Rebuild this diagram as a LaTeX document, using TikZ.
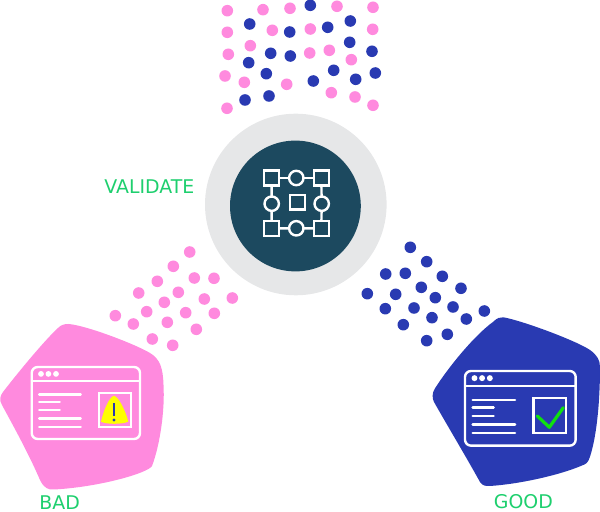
\documentclass[tikz,border=0pt]{standalone}
\usepackage{fontspec}
\setmainfont{DejaVu Sans}
\usetikzlibrary{positioning}
\definecolor{pinkColor}{RGB}{255,138,222}
\definecolor{blueColor}{RGB}{41,58,178}
\definecolor{ringColor}{RGB}{230,231,232}
\definecolor{coreColor}{RGB}{28,73,95}
\definecolor{labelColor}{RGB}{30,207,110}
\definecolor{tickColor}{RGB}{16,224,16}
\definecolor{signColor}{RGB}{255,255,0}
\tikzstyle{pixelGrid} = [x = .5pt, y = -.5pt]
\tikzstyle{iconLine} = [color=white, line width=1.2pt]
\tikzstyle{windowText} = [color=white, line width=1.2pt, line cap=round]
\tikzstyle{flowSquare} = [draw=white, line width=1.2pt, minimum size=7.4pt, inner sep=0pt, outer sep=0pt]
\tikzstyle{flowCircle} = [draw=white, line width=1.2pt, circle, minimum size=7.2pt, inner sep=0pt, outer sep=0pt]
\tikzstyle{labelText} = [color=labelColor, font=\fontsize{9.45}{11}\selectfont, anchor=base west, inner sep=0pt]
\newcommand{\dotRadius}{5.8}
\newcommand{\pinkDots}[1]{\foreach \dotPos in {#1} {\fill [pinkColor] \dotPos circle (\dotRadius);}}
\newcommand{\blueDots}[1]{\foreach \dotPos in {#1} {\fill [blueColor] \dotPos circle (\dotRadius);}}
% window icon: x, y, xscale, yscale
\newcommand{\browserWindow}[4]{
  \begin{scope}[shift={(#1,#2)}, xscale=#3, yscale=#4]
    \draw [iconLine, rounded corners=3pt] (0,0) rectangle (108.3,72);
    \draw [iconLine] (0,14.3) -- (108.3,14.3);
    \foreach \dotX in {9.3,16.7,24.3} {
      \fill [white] (\dotX,6.9) circle (2.9);
    }
    \foreach \lineY/\lineEnd in {27.7/49, 35.3/28, 43.3/28, 51.7/49, 60/49} {
      \draw [windowText] (7.5,\lineY) -- (\lineEnd,\lineY);
    }
    \draw [iconLine] (67,26.3) rectangle (99,60);
  \end{scope}
}
\begin{document}
\begin{tikzpicture}[pixelGrid]
  \useasboundingbox (0,0) rectangle (600,512);
  \clip (0,0) rectangle (600,512);

  % top cloud
  \pinkDots{(227.3,10.7),(263,9.7),(290,8.3),(337,6.3),(373,7.3),(227.3,32.3),(272.3,30.3),(310.3,29),(372.7,29.3),(250.3,45.7),(228.3,54.3),(309.7,53),(329.3,50.3),(351.3,59.7),(225,76),(244.3,82.3),(286.7,84.3),(331.3,92.7),(355,97),(373,105.3),(227,108.3)}
  \blueDots{(310.3,5.3),(249.7,24),(289.7,32),(327.7,27.3),(350.3,21),(349.7,42.3),(270.7,53.3),(290.3,56),(372,51.3),(248.7,62.7),(266.3,73.7),(333.7,70.3),(313.3,81),(355.7,79.3),(375.3,73),(245,100),(269,96)}

  % left and right clouds
  \pinkDots{(189.7,252),(173.3,266.3),(157.3,281.3),(138.7,293),(194.3,278),(214,278.3),(178.3,292.3),(164.3,302.3),(146.7,311.7),(115.3,315.7),(133.3,324),(204.3,299),(232.3,298),(185.7,312.7),(214.3,313.3),(167.3,322.3),(196.3,329.3),(152.3,339),(172.7,345.3)}
  \blueDots{(410.3,247.3),(426.7,261.7),(385.7,274),(405.3,273.3),(442.3,276.3),(421.3,287.3),(461,288.3),(367.3,293.7),(395.7,294.3),(435.3,297.7),(385.3,308.7),(414,308),(453,307),(484.3,311),(432,317.7),(466.3,319),(403.3,324.7),(447.3,334.3),(426.7,340.7)}

  % validate disc
  \fill [ringColor] (295.8,204.5) circle (90.8);
  \fill [coreColor] (295.4,206) circle (65.4);

  \node [flowSquare] (squareTL) at (271.5,178) {};
  \node [flowSquare] (squareTR) at (321.3,178) {};
  \node [flowSquare] (squareBL) at (271.5,228.5) {};
  \node [flowSquare] (squareBR) at (321.3,228.5) {};
  \node [flowSquare] (squareMid) at (297.3,202.2) {};
  \node [flowCircle] (circleTop) at (296.3,178) {};
  \node [flowCircle] (circleLeft) at (271.7,203.7) {};
  \node [flowCircle] (circleRight) at (321.7,203.7) {};
  \node [flowCircle] (circleBottom) at (296.3,228.3) {};
  \draw [iconLine] (squareTL) -- (circleTop);
  \draw [iconLine] (circleTop) -- (squareTR);
  \draw [iconLine] (squareTL) -- (circleLeft);
  \draw [iconLine] (circleLeft) -- (squareBL);
  \draw [iconLine] (squareTR) -- (circleRight);
  \draw [iconLine] (circleRight) -- (squareBR);
  \draw [iconLine] (squareBL) -- (circleBottom);
  \draw [iconLine] (circleBottom) -- (squareBR);

  % bad blob
  \fill [pinkColor] (68.3,324) .. controls (85,325) and (135,344) .. (150,353)
    .. controls (160,359) and (163,368) .. (163.5,385)
    .. controls (165,410) and (160,445) .. (152,466)
    .. controls (148,473) and (100,487) .. (54,489.5)
    .. controls (48,490) and (44,488) .. (40,480)
    .. controls (28,452) and (10,420) .. (2,405)
    .. controls (-1,400) and (0,396) .. (3,392)
    .. controls (20,370) and (45,340) .. (58,328)
    .. controls (61,325) and (64,324) .. (68.3,324) -- cycle;
  \browserWindow{31.7}{367}{1}{1}
  \fill [signColor] (114,395.7) .. controls (119,397) and (126,412) .. (128.3,421.7)
    .. controls (122,424.5) and (106,424.5) .. (101,421.7)
    .. controls (103,412) and (109,397) .. (114,395.7) -- cycle;
  \draw [blueColor, line width=1pt] (114,403.3) -- (114,416);
  \fill [blueColor] (114,420) circle (1.6);

  % good blob
  \fill [blueColor] (503.3,317.3) .. controls (520,320) and (575,340) .. (590,350)
    .. controls (597,355) and (600,360) .. (600,367)
    .. controls (600,400) and (597,435) .. (590,456.7)
    .. controls (588,463) and (586,464) .. (582,465.5)
    .. controls (560,475) and (520,484) .. (490,486)
    .. controls (485,486) and (483,486) .. (480,482)
    .. controls (465,455) and (447,425) .. (434,402)
    .. controls (432,398) and (432,393) .. (435,388.3)
    .. controls (450,365) and (475,335) .. (493.3,321.7)
    .. controls (497,318) and (500,317) .. (503.3,317.3) -- cycle;
  \browserWindow{465}{371}{1.022}{1.037}
  \draw [tickColor, line width=1.6pt, line cap=round, line join=round] (537.3,416) -- (549.3,427.3) -- (563.3,407.7);

  % labels
  \node [labelText] (validateLabel) at (104,194) {VALIDATE};
  \node [labelText] (badLabel) at (39,509.5) {BAD};
  \node [labelText] (goodLabel) at (493.5,509) {GOOD};
\end{tikzpicture}
\end{document}
